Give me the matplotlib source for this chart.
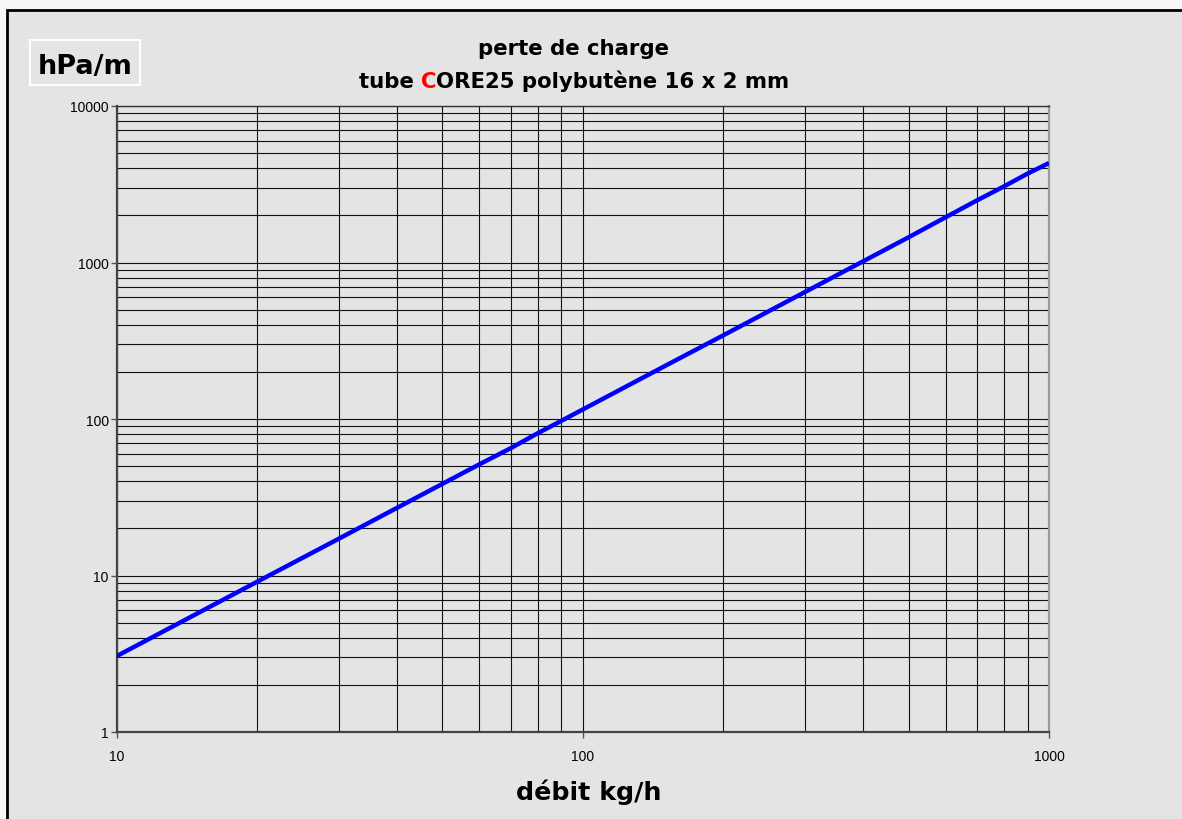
import numpy as np
import matplotlib
matplotlib.use('Agg')
import matplotlib.pyplot as plt
from matplotlib.patches import Rectangle
from matplotlib.ticker import FixedLocator, NullFormatter

# valeurs (debit kg/h -> perte de charge hPa/m)
debit = [10, 20, 30, 40, 50, 60, 70, 80, 90, 100, 150, 200, 300, 400, 500, 600, 700, 800, 900, 1000]
perte = [3.05, 9.1, 17.2, 27.1, 38.5, 51.3, 65, 81, 97.4, 115, 218, 342, 649, 1020, 1450, 1945, 2490, 3060, 3700, 4320]

x_ticks = [10, 100, 1000]
y_ticks = [1, 10, 100, 1000, 10000]
titre1 = 'perte de charge'
titre2 = [('tube ', 'black'), ('C', 'red'), ('ORE25 polybutène 16 x 2 mm', 'black')]
unite = 'hPa/m'
xlabel = 'débit kg/h'

W, H = 1182, 820
fond = '#e4e4e4'

fig = plt.figure(figsize=(W / 100, H / 100), dpi=100, facecolor='#f7f7f7')

# cadre exterieur gris avec bord noir
fig.patches.append(Rectangle((6.5 / W, -0.05), 1.2, 1 - 11 / H + 0.05, transform=fig.transFigure,
                             facecolor=fond, edgecolor='black', linewidth=2, zorder=-2))

ax = fig.add_axes([116.5 / W, 1 - 733 / H, (1049 - 116.5) / W, (733 - 107) / H])
ax.set_zorder(1)
ax.set_facecolor(fond)
ax.set_xscale('log')
ax.set_yscale('log')
ax.set_xlim(10, 1000)
ax.set_ylim(1, 10000)

# quadrillage majeur + mineur
ax.grid(True, which='both', color='#111111', linewidth=0.8)
ax.set_axisbelow(True)

ax.plot(debit, perte, color='#0000ff', linewidth=3.2, solid_capstyle='butt', zorder=3)

ax.xaxis.set_major_locator(FixedLocator(x_ticks))
ax.yaxis.set_major_locator(FixedLocator(y_ticks))
ax.set_xticklabels([str(v) for v in x_ticks])
ax.set_yticklabels([str(v) for v in y_ticks])
ax.xaxis.set_minor_formatter(NullFormatter())
ax.yaxis.set_minor_formatter(NullFormatter())
ax.tick_params(which='minor', length=0)
ax.tick_params(axis='x', which='major', length=4, width=1, color='#555555', pad=8.5,
               labelsize=10, labelfontfamily='Liberation Sans')
ax.tick_params(axis='y', which='major', length=4, width=1, color='#555555', pad=1.5,
               labelsize=10, labelfontfamily='Liberation Sans')

for s in ['left', 'bottom']:
    ax.spines[s].set_color('#444444')
    ax.spines[s].set_linewidth(1.6)
ax.spines['top'].set_color('#333333')
ax.spines['top'].set_linewidth(1.0)
ax.spines['right'].set_color('#999999')
ax.spines['right'].set_linewidth(1.6)

police = dict(family='DejaVu Sans', weight='bold', size=15.3)

# titre, premiere ligne
cx = 574 / W
fig.text(cx, 1 - 55 / H, titre1, ha='center', va='baseline', **police)

# deuxieme ligne avec le C rouge
renderer = fig.canvas.get_renderer()

def largeur(s):
    t = fig.text(0, 0, s, **police)
    w = t.get_window_extent(renderer).width
    t.remove()
    return w

complet = ''.join(p for p, c in titre2)
x0 = cx * W - largeur(complet) / 2
pos = [0, largeur('tube C') - largeur('C'), largeur('tube C')]
for (s, c), dx in zip(titre2, pos):
    fig.text((x0 + dx) / W, 1 - 88 / H, s, color=c, ha='left', va='baseline', **police)

# boite unite
fig.patches.append(Rectangle((30 / W, 1 - 86 / H), 110 / W, 45 / H, transform=fig.transFigure,
                             facecolor=fond, edgecolor='white', linewidth=1.5, zorder=1))
fig.text(85 / W, 1 - 74 / H, unite, ha='center', va='baseline', zorder=2,
         family='DejaVu Sans', weight='bold', size=19.5)

fig.text(589 / W, 1 - 800 / H, xlabel, ha='center', va='baseline',
         family='DejaVu Sans', weight='bold', size=18.3)

fig.savefig('out.png', dpi=100, facecolor=fig.get_facecolor())
